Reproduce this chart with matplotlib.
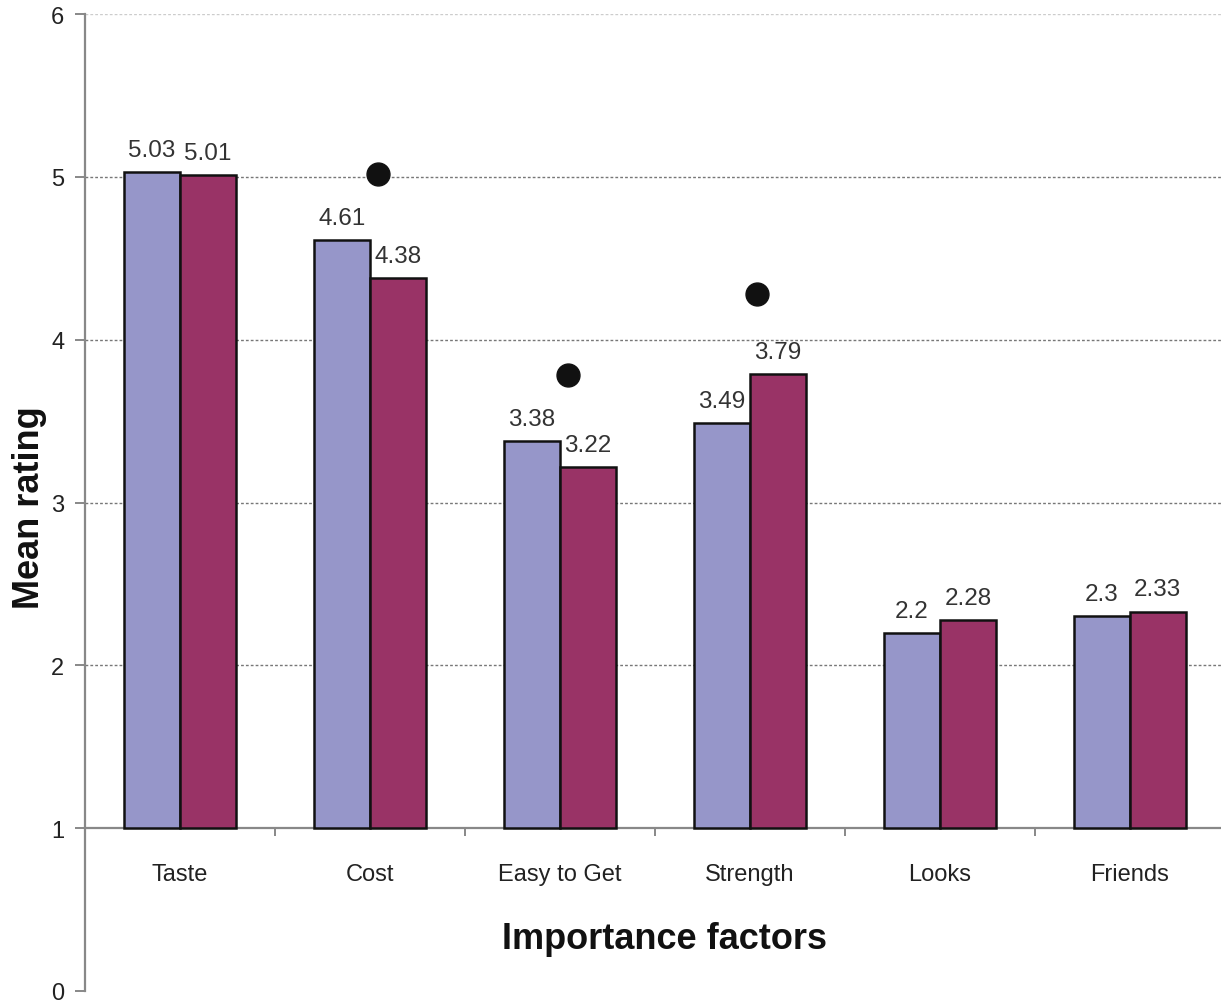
import matplotlib
matplotlib.use("Agg")
import matplotlib.pyplot as plt
import numpy as np
from matplotlib.ticker import FixedLocator

plt.rcParams['font.family'] = ['Liberation Sans', 'DejaVu Sans']

factors = ["Taste", "Cost", "Easy to Get", "Strength", "Looks", "Friends"]
group_a = [5.03, 4.61, 3.38, 3.49, 2.20, 2.30]
group_b = [5.01, 4.38, 3.22, 3.79, 2.28, 2.33]
a_labels = ["5.03", "4.61", "3.38", "3.49", "2.2", "2.3"]
b_labels = ["5.01", "4.38", "3.22", "3.79", "2.28", "2.33"]
# significant differences marked with a dot
marked_factors = ["Cost", "Easy to Get", "Strength"]
marked_values = [5.02, 3.78, 4.28]
y_ticks = [0, 1, 2, 3, 4, 5, 6]

blue = "#9696C9"
plum = "#993366"
baseline = 1

fig = plt.figure(figsize=(12.21, 10.04), dpi=100)
ax = fig.add_axes([85 / 1221, 1 - 992 / 1004, 1 - 85 / 1221, (992 - 15) / 1004])

x = np.arange(len(factors))
w = 0.295
ha = np.array(group_a) - baseline
hb = np.array(group_b) - baseline
ax.bar(x - w / 2, ha, w, bottom=baseline, color=blue, edgecolor="#111111",
       linewidth=1.8, zorder=3)
ax.bar(x + w / 2, hb, w, bottom=baseline, color=plum, edgecolor="#111111",
       linewidth=1.8, zorder=3)

for xi, v, s in zip(x - w / 2, group_a, a_labels):
    ax.annotate(s, (xi, v), xytext=(0, 8), textcoords="offset points",
                ha="center", va="bottom", fontsize=17.5, color="#333333")
for xi, v, s in zip(x + w / 2, group_b, b_labels):
    ax.annotate(s, (xi, v), xytext=(0, 8), textcoords="offset points",
                ha="center", va="bottom", fontsize=17.5, color="#333333")

mx = [factors.index(f) + 0.04 for f in marked_factors]
ax.plot(mx, marked_values, "o", color="#111111", ms=16.5, zorder=4,
        linestyle="none")

ax.set_ylim(0, 6)
ax.set_xlim(-0.5, 5.48)
ax.set_yticks(y_ticks)
ax.set_yticklabels([str(t) for t in y_ticks], fontsize=17, color="#222222")
for g in [2, 3, 4, 5]:
    ax.axhline(g, color="#777777", linestyle=(0, (2, 1.5)), linewidth=1.0, zorder=1)
ax.axhline(6, color="#cccccc", linestyle=(0, (2, 1.5)), linewidth=1.0, zorder=1)

for side in ["top", "right"]:
    ax.spines[side].set_visible(False)
ax.spines["left"].set_color("#888888")
ax.spines["left"].set_linewidth(1.6)
ax.spines["bottom"].set_position(("data", baseline))
ax.spines["bottom"].set_color("#888888")
ax.spines["bottom"].set_linewidth(1.6)

ax.set_xticks(x)
ax.set_xticklabels(factors, fontsize=17, color="#222222")
ax.tick_params(axis="x", which="major", length=0, pad=25)
ax.xaxis.set_minor_locator(FixedLocator(x[:-1] + 0.5))
ax.tick_params(axis="x", which="minor", length=6, width=1.4, color="#888888",
               direction="out")
ax.tick_params(axis="y", length=7, width=1.4, color="#888888", pad=8)

fig.text(665 / 1221, 1 - 940 / 1004, "Importance factors", fontsize=26,
         fontweight="bold", ha="center", va="center", color="#111111")
fig.text(30 / 1221, 1 - 508 / 1004, "Mean rating", fontsize=26,
         fontweight="bold", ha="center", va="center", rotation=90, color="#111111")

fig.savefig("out.png", dpi=100, facecolor="white")
